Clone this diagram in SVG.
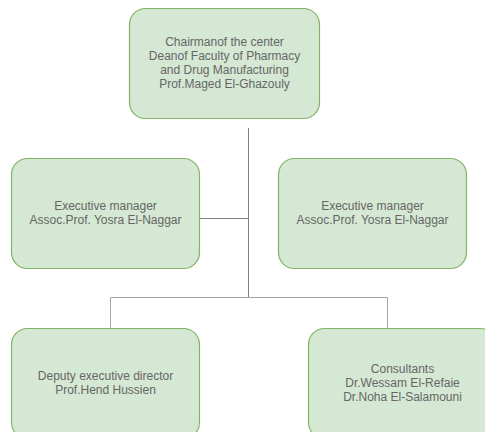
<svg xmlns="http://www.w3.org/2000/svg" width="485" height="432" viewBox="0 0 485 432">
<style>
.box{fill:#d5e8d4;stroke:#82b366;stroke-width:1.2}
.t{font-family:"Liberation Sans",Arial,sans-serif;font-size:12px;fill:#666666;text-anchor:middle;dominant-baseline:central}
.c{fill:none;stroke:#808080;stroke-width:1}
.c2{fill:none;stroke:#a6a6a6;stroke-width:1}
</style>
<rect width="485" height="432" fill="#ffffff"/>
<g id="connectors">
<path class="c" d="M248.5 128 V298"/>
<path class="c" d="M199 218.5 H248.5"/>
<path class="c2" d="M110.5 328 V297.5 H387.5 V328"/>
</g>
<g id="chairman">
<rect class="box" x="129.5" y="8.5" width="190" height="110" rx="16"/>
<text class="t" x="224.5" y="42">Chairmanof the center</text>
<text class="t" x="224.5" y="56">Deanof Faculty of Pharmacy</text>
<text class="t" x="224.5" y="70">and Drug Manufacturing</text>
<text class="t" x="224.5" y="84">Prof.Maged El-Ghazouly</text>
</g>
<g id="exec-left">
<rect class="box" x="11.5" y="158.5" width="188" height="110" rx="16"/>
<text class="t" x="105.5" y="206">Executive manager</text>
<text class="t" x="105.5" y="220">Assoc.Prof. Yosra El-Naggar</text>
</g>
<g id="exec-right">
<rect class="box" x="278.5" y="158.5" width="188" height="110" rx="16"/>
<text class="t" x="372.5" y="206">Executive manager</text>
<text class="t" x="372.5" y="220">Assoc.Prof. Yosra El-Naggar</text>
</g>
<g id="deputy">
<rect class="box" x="11.5" y="328.5" width="188" height="110" rx="16"/>
<text class="t" x="105.5" y="376">Deputy executive director</text>
<text class="t" x="105.5" y="390">Prof.Hend Hussien</text>
</g>
<g id="consultants">
<rect class="box" x="308.5" y="328.5" width="188" height="110" rx="16"/>
<text class="t" x="402.5" y="369">Consultants</text>
<text class="t" x="402.5" y="383">Dr.Wessam El-Refaie</text>
<text class="t" x="402.5" y="397">Dr.Noha El-Salamouni</text>
</g>
</svg>
